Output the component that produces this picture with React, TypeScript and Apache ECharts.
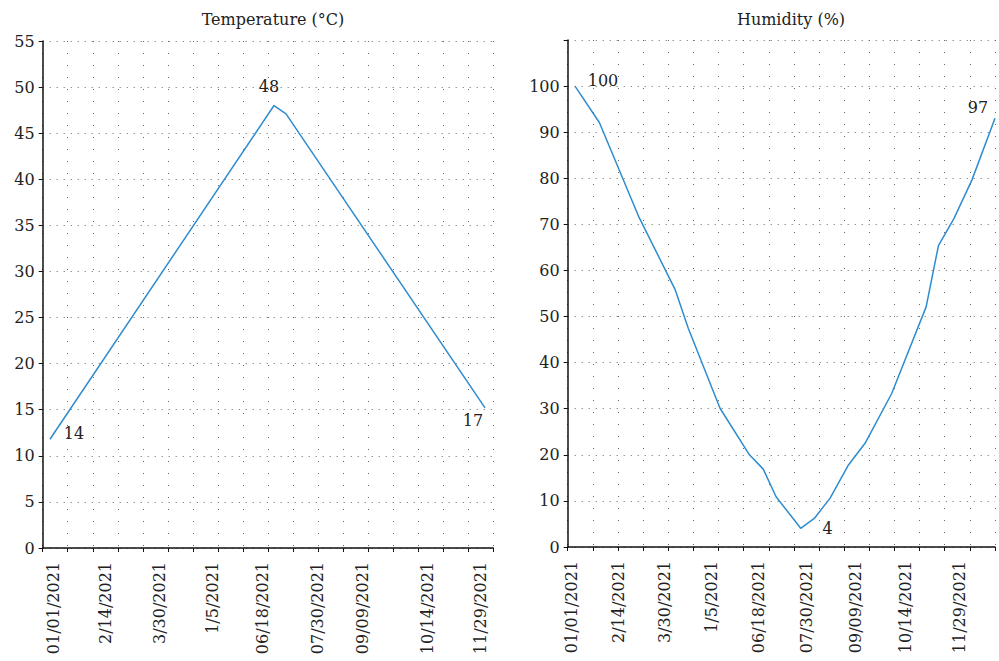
import React, { useEffect, useRef } from "react";
import * as echarts from "echarts";

const dateLabels = ["01/01/2021", "2/14/2021", "3/30/2021", "1/5/2021", "06/18/2021", "07/30/2021", "09/09/2021", "10/14/2021", "11/29/2021"];
const tempLabelPos = [0.45, 2.52, 4.65, 6.78, 8.77, 10.97, 12.77, 15.36, 17.5];
const humLabelPos = [0.17, 2.03, 3.86, 5.74, 7.6, 9.52, 11.46, 13.45, 15.58];

const tempX = [0.29, 9.24, 9.72, 17.67];
const tempY = [11.8, 48, 47.1, 15.2];
const tempNotes = ["14", "48", "", "17"];

const humX = [0.29, 1.26, 2.84, 4.27, 4.8, 6.06, 7.23, 7.78, 8.29, 9.27, 9.81, 10.44, 11.17, 11.83, 12.89, 14.26, 14.75, 15.37, 16.08, 17.0];
const humY = [100, 92.1, 71.5, 55.9, 47.4, 30.1, 20, 16.9, 10.9, 4.05, 6.2, 10.6, 17.8, 22.5, 33.3, 52.1, 65.4, 71.3, 79.6, 93];
const humNotes = ["100", "", "", "", "", "", "", "", "", "4", "", "", "", "", "", "", "", "", "", "97"];

const FONT = "DejaVu Serif";
const TEXT = "#222";
const LINE = "#2f8ccf";

const tempOffsets: Record<number, number[]> = { 0: [24, -6], 1: [-5, -19], 3: [-12, 13] };
const humOffsets: Record<number, number[]> = { 0: [28, -6], 9: [27, 0], 19: [-17, -11] };

function nearestLabel(v: number, pos: number[]) {
  let best = -1;
  let bd = 1e9;
  pos.forEach((p, i) => {
    const d = Math.abs(p - v);
    if (d < bd) { bd = d; best = i; }
  });
  return bd < 0.005 ? dateLabels[best] : "";
}

function buildData(xs: number[], ys: number[], notes: string[], offsets: Record<number, number[]>) {
  return xs.map((x, i) => {
    const item: any = { value: [x, ys[i]] };
    if (notes[i]) {
      item.label = {
        show: true,
        position: "inside",
        formatter: notes[i],
        offset: offsets[i] || [0, 0],
        color: TEXT,
        fontFamily: FONT,
        fontSize: 16,
      };
    }
    return item;
  });
}

function xAxis(gridIndex: number, max: number, pos: number[]) {
  return {
    type: "value",
    gridIndex,
    min: 0,
    max,
    interval: 1,
    axisLine: { show: true, onZero: false, lineStyle: { color: "#111", width: 1.5 } },
    axisTick: { show: true, length: 4, lineStyle: { color: "#111" } },
    splitLine: { show: true, lineStyle: { type: [1, 11], color: "#666", width: 1 } },
    axisLabel: {
      show: true,
      customValues: pos,
      rotate: 90,
      margin: 14,
      color: TEXT,
      fontFamily: FONT,
      fontSize: 16,
      formatter: (v: number) => nearestLabel(v, pos),
    },
  };
}

function yAxis(gridIndex: number, max: number, interval: number, hideMax: boolean) {
  return {
    type: "value",
    gridIndex,
    min: 0,
    max,
    interval,
    axisLine: { show: true, lineStyle: { color: "#111", width: 1.5 } },
    axisTick: { show: true, length: 4, lineStyle: { color: "#111" } },
    splitLine: { show: true, lineStyle: { type: [1, 6], color: "#666", width: 1 } },
    axisLabel: {
      margin: 8,
      color: TEXT,
      fontFamily: FONT,
      fontSize: 16,
      formatter: (v: number) => (hideMax && v === max ? "" : String(v)),
    },
  };
}

export default function App() {
  const ref = useRef<HTMLDivElement>(null);
  useEffect(() => {
    if (!ref.current) return;
    const chart = echarts.init(ref.current, undefined, { renderer: "svg" });
    chart.setOption({
      animation: false,
      backgroundColor: "#fff",
      title: [
        { text: "Temperature (°C)", left: 268, top: 6, textAlign: "center", textStyle: { fontFamily: FONT, fontSize: 16, fontWeight: "normal", color: TEXT } },
        { text: "Humidity (%)", left: 786, top: 6, textAlign: "center", textStyle: { fontFamily: FONT, fontSize: 16, fontWeight: "normal", color: TEXT } },
      ],
      grid: [
        { left: 42.7, top: 41, width: 450.6, height: 507 },
        { left: 567.7, top: 40, width: 427.3, height: 507 },
      ],
      xAxis: [xAxis(0, 18, tempLabelPos), xAxis(1, 17, humLabelPos)],
      yAxis: [yAxis(0, 55, 5, false), yAxis(1, 110, 10, true)],
      series: [
        {
          type: "line",
          xAxisIndex: 0,
          yAxisIndex: 0,
          data: buildData(tempX, tempY, tempNotes, tempOffsets),
          symbol: "circle",
          symbolSize: 0.1,
          showSymbol: true,
          itemStyle: { color: "rgba(0,0,0,0)" },
          lineStyle: { color: LINE, width: 1.5 },
        },
        {
          type: "line",
          xAxisIndex: 1,
          yAxisIndex: 1,
          data: buildData(humX, humY, humNotes, humOffsets),
          symbol: "circle",
          symbolSize: 0.1,
          showSymbol: true,
          clip: false,
          itemStyle: { color: "rgba(0,0,0,0)" },
          lineStyle: { color: LINE, width: 1.5 },
        },
      ],
    });
    return () => chart.dispose();
  }, []);
  return <div ref={ref} style={{ position: "absolute", left: 0, top: 0, width: 999, height: 661 }} />;
}
